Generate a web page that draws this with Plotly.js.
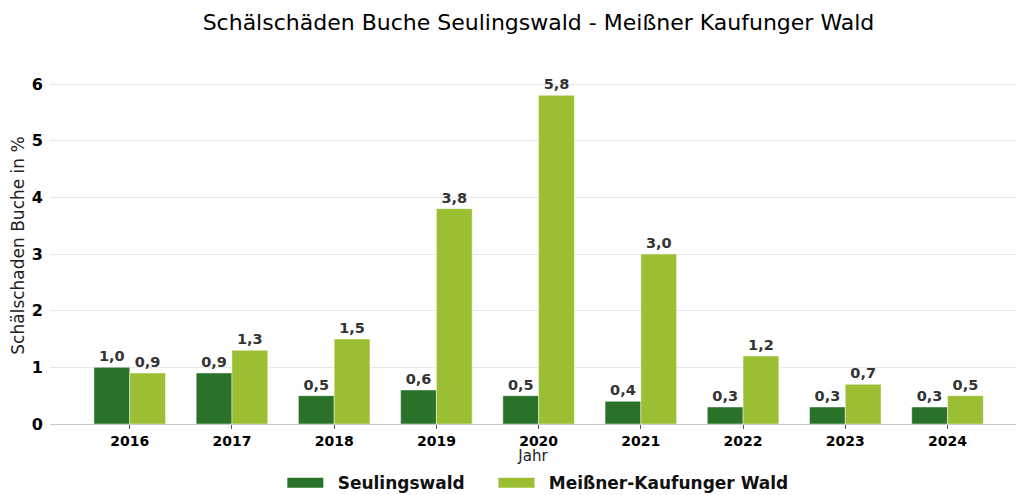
<!DOCTYPE html>
<html>
<head>
<meta charset="utf-8">
<script src="https://cdn.plot.ly/plotly-3.0.1.min.js"></script>
<style>html,body{margin:0;padding:0;background:#fff;}#chart{width:1016px;height:495px;}</style>
</head>
<body>
<div id="chart"></div>
<script>
const years = ['2016','2017','2018','2019','2020','2021','2022','2023','2024'];
const seulingswald = [1.0, 0.9, 0.5, 0.6, 0.5, 0.4, 0.3, 0.3, 0.3];
const meissner = [0.9, 1.3, 1.5, 3.8, 5.8, 3.0, 1.2, 0.7, 0.5];
const seriesNames = ['Seulingswald', 'Meißner-Kaufunger Wald'];
const colors = ['#2a722a', '#9abf32'];

const fmt = v => v.toFixed(1).replace('.', ',');
const font = 'DejaVu Sans';
const pad = '\u00a0\u2009';
const trail = '\u00a0\u00a0\u00a0\u00a0';

function barTrace(name, vals, color) {
  return {
    type: 'bar', name: name, x: years, y: vals,
    marker: {color: color, line: {color: 'rgba(255,255,255,0.45)', width: 1}},
    text: vals.map(fmt), textposition: 'outside', cliponaxis: false,
    textfont: {family: font, size: 14.5, color: '#333333', weight: 'bold'},
    showlegend: false, hoverinfo: 'x+y'
  };
}
function legendTrace(name, color, suffix) {
  return {
    type: 'scatter', mode: 'lines', name: pad + name + suffix, x: [null], y: [null],
    line: {color: color, width: 11}, showlegend: true, hoverinfo: 'skip'
  };
}

const data = [
  barTrace(seriesNames[0], seulingswald, colors[0]),
  barTrace(seriesNames[1], meissner, colors[1]),
  legendTrace(seriesNames[0], colors[0], trail),
  legendTrace(seriesNames[1], colors[1], '')
];

const layout = {
  width: 1016, height: 495,
  margin: {l: 50, r: 0, t: 67, b: 71, autoexpand: false},
  paper_bgcolor: '#ffffff', plot_bgcolor: '#ffffff',
  font: {family: font, color: '#000'},
  title: {text: 'Schälschäden Buche Seulingswald - Meißner Kaufunger Wald',
          font: {family: font, size: 22, color: '#000'}, x: 0.53, xanchor: 'center', y: 0.955, yanchor: 'middle'},
  barmode: 'group', bargap: 0.3, bargroupgap: 0,
  xaxis: {
    type: 'category', range: [-0.78, 8.67],
    showline: true, linecolor: '#c8c8c8', linewidth: 1,
    ticks: 'outside', ticklen: 4, tickcolor: '#555', showgrid: false,
    tickfont: {family: font, size: 14, color: '#000', weight: 'bold'},
    title: {text: 'Jahr', font: {family: font, size: 15, color: '#222'}, standoff: 5}
  },
  yaxis: {
    range: [0, 6.3], dtick: 1, tick0: 0,
    showgrid: true, gridcolor: '#e8e8e8', gridwidth: 1,
    zeroline: false, showline: false, ticks: '',
    tickfont: {family: font, size: 16, color: '#000', weight: 'bold'},
    ticklabelstandoff: 6,
    title: {text: 'Schälschaden Buche in %', font: {family: font, size: 17, color: '#222'}, standoff: 2}
  },
  legend: {
    orientation: 'h', x: 0.505, xanchor: 'center', xref: 'paper',
    yref: 'container', y: 0.024, yanchor: 'middle',
    font: {family: font, size: 17, color: '#111', weight: 'bold'},
    itemwidth: 36, tracegroupgap: 0
  }
};

Plotly.newPlot('chart', data, layout, {displayModeBar: false, staticPlot: true});
</script>
</body>
</html>
